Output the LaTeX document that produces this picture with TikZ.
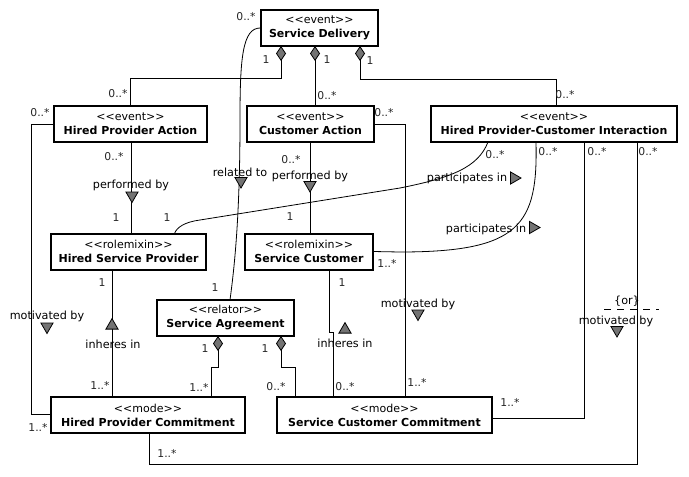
\documentclass[tikz,border=0pt]{standalone}
\usepackage{fontspec}
\setmainfont{DejaVu Sans}
\usetikzlibrary{arrows.meta,shapes.geometric,calc}
\newcommand\stereo[1]{<\kern0pt<#1>\kern0pt>}
\begin{document}
\begin{tikzpicture}[x=1pt,y=1pt,
  cls/.style={draw, line width=2pt, minimum height=36pt, inner sep=0pt, outer sep=0pt, align=center, font=\fontsize{11}{14}\selectfont},
  conn/.style={line width=0.8pt},
  comp/.style={conn,{Diamond[length=15pt,width=10pt,fill=black!55]}-},
  mult/.style={font=\fontsize{10.8}{12}\selectfont, inner sep=0pt, text=black!85},
  lbl/.style={font=\fontsize{11.2}{12}\selectfont, inner sep=0pt},
  tri/.style={regular polygon, regular polygon sides=3, draw, fill=black!55, minimum size=14pt, inner sep=0pt, line width=0.8pt},
  tdown/.style={tri, shape border rotate=180},
  tup/.style={tri},
  tright/.style={tri, shape border rotate=-90}
]
\useasboundingbox (0,0) rectangle (689,-477);

% classes
\node[cls, minimum width=117pt] (sd) at (319.5,-28) {\stereo{event}\\\textbf{Service Delivery}};
\node[cls, minimum width=153pt] (hpa) at (130.5,-124) {\stereo{event}\\\textbf{Hired Provider Action}};
\node[cls, minimum width=127pt] (ca) at (310.5,-124) {\stereo{event}\\\textbf{Customer Action}};
\node[cls, minimum width=246pt] (hpci) at (554,-124) {\stereo{event}\\\textbf{Hired Provider-Customer Interaction}};
\node[cls, minimum width=155pt] (hsp) at (128.5,-251.5) {\stereo{rolemixin}\\\textbf{Hired Service Provider}};
\node[cls, minimum width=128pt] (sc) at (309,-251.5) {\stereo{rolemixin}\\\textbf{Service Customer}};
\node[cls, minimum width=137pt] (sa) at (225.5,-318) {\stereo{relator}\\\textbf{Service Agreement}};
\node[cls, minimum width=194pt] (hpc) at (148,-415) {\stereo{mode}\\\textbf{Hired Provider Commitment}};
\node[cls, minimum width=215pt] (scc) at (384.5,-415) {\stereo{mode}\\\textbf{Service Customer Commitment}};

% connectors
\draw[comp] ([xshift=-38.5]sd.south) -- ++(0,-32) -| (hpa.north);
\draw[comp] ([xshift=-4.5]sd.south) -- ([xshift=-4.5]sd.south |- ca.north);
\draw[comp] ([xshift=40.5]sd.south) -- ++(0,-33) -| ([xshift=2]hpci.north);
\draw[conn] (sd.west) .. controls (242,-27) and (240,-60) .. (240,-120) .. controls (240,-220) and (234,-270) .. ([xshift=4.5]sa.north);
\draw[conn] ([xshift=1]hpa.south) -- ([xshift=1]hpa.south |- hsp.north);
\draw[conn] (ca.south) -- (ca.south |- sc.north);
\draw[conn] ([xshift=-66]hpci.south) .. controls (478,-168) and (450,-178) .. (400,-188) -- (200,-220) .. controls (185,-222) and (177,-227) .. ([xshift=46]hsp.north);
\draw[conn] ([xshift=-18]hpci.south) .. controls (538,-225) and (520,-252) .. (400,-252) -- (sc.east);
\draw[conn] ([xshift=30]hpci.south) |- ([yshift=-3]scc.east);
\draw[conn] ([xshift=83]hpci.south) -- ++(0,-322) -| ([xshift=1]hpc.south);
\draw[conn] (ca.east) -| ([xshift=20.5]scc.north);
\draw[conn] (hpa.west) -- ++(-23,0) |- ([yshift=1]hpc.west);
\draw[conn] ([xshift=-16.5]hsp.south) -- ([xshift=-16.5]hsp.south |- hpc.north);
\draw[conn] ([xshift=20]sc.south) -- ++(0,-62.5) -| ([xshift=-51.5]scc.north);
\draw[comp] ([xshift=-7.5]sa.south) -- ++(0,-31) -| ([xshift=63]hpc.north);
\draw[comp] ([xshift=55.5]sa.south) -- ++(0,-31) -| ([xshift=-89.5]scc.north);
\coordinate (or1) at (604,-309);
\coordinate (or2) at (659,-309);
\draw[conn, dash pattern=on 7pt off 6pt] (or1) -- (or2);

% multiplicities
\node[mult] (m1) at (266,-60) {1};
\node[mult] (m2) at (118,-94) {0..*};
\node[mult] (m3) at (327,-60) {1};
\node[mult] (m4) at (327,-96) {0..*};
\node[mult] (m5) at (370,-61) {1};
\node[mult] (m6) at (565,-95) {0..*};
\node[mult] (m7) at (246,-17) {0..*};
\node[mult] (m8) at (215,-288) {1};
\node[mult] (m9) at (114,-157) {0..*};
\node[mult] (m10) at (116,-218) {1};
\node[mult] (m11) at (291,-160) {0..*};
\node[mult] (m12) at (290,-217) {1};
\node[mult] (m13) at (495,-155) {0..*};
\node[mult] (m14) at (167,-218) {1};
\node[mult] (m15) at (548,-152) {0..*};
\node[mult] (m16) at (387,-263) {1..*};
\node[mult] (m17) at (597,-152) {0..*};
\node[mult] (m18) at (510,-402) {1..*};
\node[mult] (m19) at (648,-152) {0..*};
\node[mult] (m20) at (167,-453) {1..*};
\node[mult] (m21) at (384,-113) {0..*};
\node[mult] (m22) at (417,-382) {1..*};
\node[mult] (m23) at (40,-113) {0..*};
\node[mult] (m24) at (38,-427) {1..*};
\node[mult] (m25) at (102,-283) {1};
\node[mult] (m26) at (100,-385) {1..*};
\node[mult] (m27) at (342,-283) {1};
\node[mult] (m28) at (345,-387) {0..*};
\node[mult] (m29) at (205,-349) {1};
\node[mult] (m30) at (199,-387) {1..*};
\node[mult] (m31) at (265,-349) {1};
\node[mult] (m32) at (276,-387) {0..*};

% association labels
\node[lbl] (l1) at (240,-172) {related to};
\node[tdown] (t1) at (241,-181) {};
\node[lbl] (l2) at (131,-185) {performed by};
\node[tdown] (t2) at (132,-195.5) {};
\node[lbl] (l3) at (310,-176) {performed by};
\node[tdown] (t3) at (310,-185) {};
\node[lbl] (l4) at (467,-178) {participates in};
\node[tright] (t4) at (514,-178) {};
\node[lbl] (l5) at (486,-229) {participates in};
\node[tright] (t5) at (533,-227.5) {};
\node[lbl] (l6) at (418,-304) {motivated by};
\node[tdown] (t6) at (418,-313.5) {};
\node[lbl] (l7) at (47,-316) {motivated by};
\node[tdown] (t7) at (47,-326.5) {};
\node[lbl] (l8) at (113,-344) {inheres in};
\node[tup] (t8) at (112,-325.6) {};
\node[lbl] (l9) at (345,-343) {inheres in};
\node[tup] (t9) at (345,-329.6) {};
\node[lbl] (l10) at (616,-321) {motivated by};
\node[tdown] (t10) at (617,-330) {};
\node[lbl] (l11) at (627,-301) {\{or\}};
\end{tikzpicture}
\end{document}
